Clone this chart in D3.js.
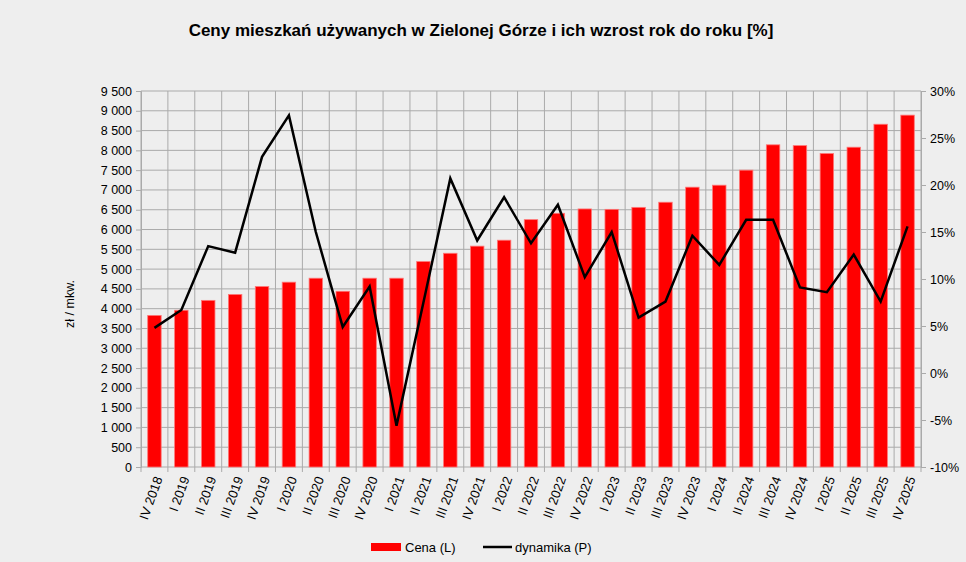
<!DOCTYPE html>
<html>
<head>
<meta charset="utf-8">
<script src="https://cdn.jsdelivr.net/npm/d3@7"></script>
<style>
    body { margin: 0; background: #eeeeee; font-family: "Liberation Sans", Arial, sans-serif; }
    svg text { font-family: "Liberation Sans", Arial, sans-serif; }
</style>
</head>
<body>
<div id="chart"></div>
<script>
// Kwartały
const quarters = [
    "IV 2018",
    "I 2019", "II 2019", "III 2019", "IV 2019",
    "I 2020", "II 2020", "III 2020", "IV 2020",
    "I 2021", "II 2021", "III 2021", "IV 2021",
    "I 2022", "II 2022", "III 2022", "IV 2022",
    "I 2023", "II 2023", "III 2023", "IV 2023",
    "I 2024", "II 2024", "III 2024", "IV 2024",
    "I 2025", "II 2025", "III 2025", "IV 2025"
];

// Cena (L) - zł / mkw.
const prices = [
    3830,
    3960, 4210, 4360, 4560,
    4670, 4770, 4440, 4770,
    4770, 5190, 5400, 5580,
    5730, 6250, 6410, 6520,
    6510, 6560, 6690, 7070,
    7120, 7500, 8140, 8120,
    7920, 8080, 8660, 8890
];

// dynamika (P) - %
const growth = [
    4.8,
    6.7, 13.5, 12.8, 23.0,
    27.4, 15.0, 4.9, 9.2,
    -5.6, 7.5, 20.7, 14.1,
    18.7, 13.8, 17.9, 10.2,
    15.0, 5.9, 7.6, 14.6,
    11.5, 16.3, 16.3, 9.1,
    8.6, 12.6, 7.6, 15.6
];

const leftTicks = d3.range(0, 9501, 500);
const rightTicks = d3.range(-10, 31, 5);

const width = 966;
const height = 562;
const margin = { top: 91, right: 45, bottom: 95, left: 141 };

const svg = d3.select("#chart").append("svg")
    .attr("width", width)
    .attr("height", height)
    .style("background", "#eeeeee");

const x = d3.scaleBand()
    .domain(quarters)
    .range([margin.left, width - margin.right])
    .paddingInner(0.5)
    .paddingOuter(0.25);

const yLeft = d3.scaleLinear()
    .domain([0, 9500])
    .range([height - margin.bottom, margin.top]);

const yRight = d3.scaleLinear()
    .domain([-10, 30])
    .range([height - margin.bottom, margin.top]);

const fmtThousands = d => d3.format(",")(d).replace(/,/g, " ");

// Gridlines
const grid = svg.append("g").attr("class", "grid");
grid.selectAll(".hgrid")
    .data(leftTicks)
    .enter().append("line")
    .attr("x1", margin.left)
    .attr("x2", width - margin.right)
    .attr("y1", d => yLeft(d))
    .attr("y2", d => yLeft(d))
    .style("stroke", "#aaaaaa")
    .style("stroke-width", 1);

const boundaries = d3.range(quarters.length + 1).map(i => margin.left + i * (width - margin.left - margin.right) / quarters.length);
grid.selectAll(".vgrid")
    .data(boundaries)
    .enter().append("line")
    .attr("x1", d => d)
    .attr("x2", d => d)
    .attr("y1", margin.top)
    .attr("y2", height - margin.bottom + 5)
    .style("stroke", "#aaaaaa")
    .style("stroke-width", 1);

// Bars
svg.append("g").selectAll("rect")
    .data(prices)
    .enter().append("rect")
    .attr("x", (d, i) => x(quarters[i]))
    .attr("y", d => yLeft(d))
    .attr("width", x.bandwidth())
    .attr("height", d => yLeft(0) - yLeft(d))
    .style("fill", "#ff0000")
    .style("stroke", "#ff7777")
    .style("stroke-width", 0.8);

// Line
const line = d3.line()
    .x((d, i) => x(quarters[i]) + x.bandwidth() / 2)
    .y(d => yRight(d));

svg.append("path")
    .datum(growth)
    .attr("d", line)
    .style("fill", "none")
    .style("stroke", "#000")
    .style("stroke-width", 2.5)
    .style("stroke-linejoin", "miter");

// Left axis
const leftAxis = svg.append("g")
    .attr("transform", `translate(${margin.left},0)`)
    .call(d3.axisLeft(yLeft).tickValues(leftTicks).tickFormat(fmtThousands).tickSize(5).tickPadding(4));
leftAxis.select(".domain").style("stroke", "#aaaaaa");
leftAxis.selectAll(".tick line").style("stroke", "#aaaaaa");
leftAxis.selectAll("text").style("font-size", "12.5px").style("fill", "#000");

// Right axis
const rightAxis = svg.append("g")
    .attr("transform", `translate(${width - margin.right},0)`)
    .call(d3.axisRight(yRight).tickValues(rightTicks).tickFormat(d => d + "%").tickSize(5).tickPadding(4));
rightAxis.select(".domain").style("stroke", "#aaaaaa");
rightAxis.selectAll(".tick line").style("stroke", "#aaaaaa");
rightAxis.selectAll("text").style("font-size", "12.5px").style("fill", "#000");

// X labels
svg.append("g").selectAll("text")
    .data(quarters)
    .enter().append("text")
    .attr("transform", d => `translate(${x(d) + x.bandwidth() / 2 + 4},${height - margin.bottom + 10}) rotate(-70)`)
    .attr("text-anchor", "end")
    .attr("dy", "0.35em")
    .style("font-size", "13px")
    .style("fill", "#000")
    .text(d => d);

// Y axis title
svg.append("text")
    .attr("transform", `translate(74,304) rotate(-90)`)
    .attr("text-anchor", "middle")
    .style("font-size", "12.5px")
    .style("fill", "#000")
    .text("zł / mkw.");

// Title
svg.append("text")
    .attr("x", 481)
    .attr("y", 36)
    .attr("text-anchor", "middle")
    .style("font-size", "17px")
    .style("font-weight", "bold")
    .style("fill", "#000")
    .text("Ceny mieszkań używanych w Zielonej Górze i ich wzrost rok do roku [%]");

// Legend
const legend = svg.append("g").attr("class", "legend");
legend.append("rect")
    .attr("x", 371)
    .attr("y", 543)
    .attr("width", 30)
    .attr("height", 8)
    .style("fill", "#ff0000");
legend.append("text")
    .attr("x", 405)
    .attr("y", 547)
    .attr("dy", "0.35em")
    .style("font-size", "13px")
    .text("Cena (L)");
legend.append("line")
    .attr("x1", 483)
    .attr("x2", 512)
    .attr("y1", 547)
    .attr("y2", 547)
    .style("stroke", "#000")
    .style("stroke-width", 2.5);
legend.append("text")
    .attr("x", 515)
    .attr("y", 547)
    .attr("dy", "0.35em")
    .style("font-size", "13px")
    .text("dynamika (P)");
</script>
</body>
</html>
